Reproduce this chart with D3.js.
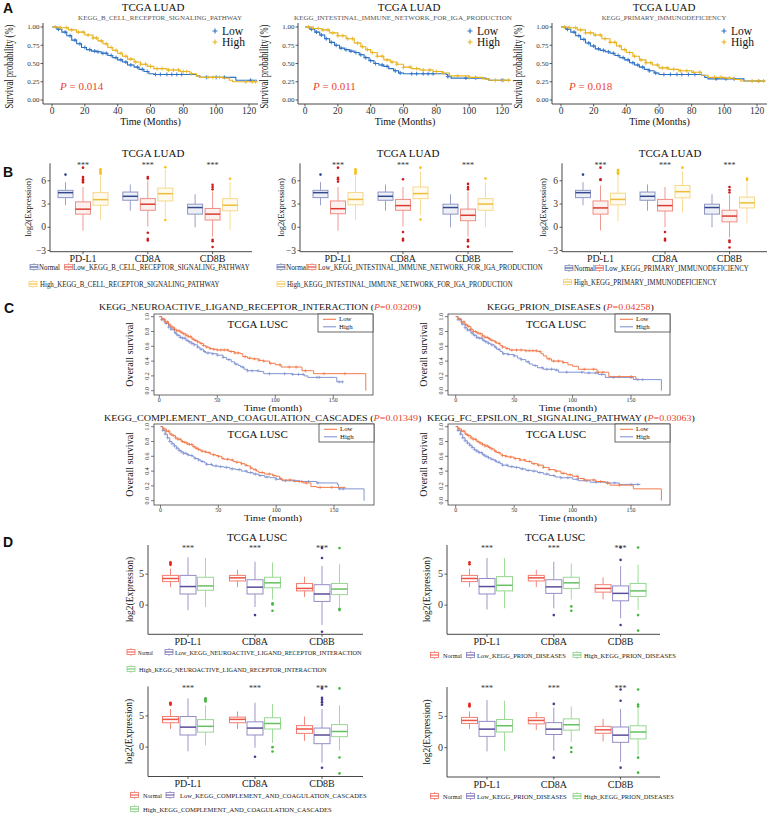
<!DOCTYPE html>
<html><head><meta charset="utf-8">
<script src="https://cdn.jsdelivr.net/npm/d3@7"></script>
<style>body{margin:0;background:#fff} svg text{font-family:"Liberation Serif","Times New Roman",serif}</style>
</head><body><script>
// ================= DATA =================
const genes = ["PD-L1","CD8A","CD8B"];
const groupNames = ["Normal","Low","High"];

// ---- Panel A (TCGA LUAD KM) ----
const titleA = "TCGA LUAD";
const pathwaysA = ["KEGG_B_CELL_RECEPTOR_SIGNALING_PATHWAY","KEGG_INTESTINAL_IMMUNE_NETWORK_FOR_IGA_PRODUCTION","KEGG_PRIMARY_IMMUNODEFICIENCY"];
const pA = ["0.014","0.011","0.018"];
const timeTicksA = [0,20,40,60,80,100,120];
const survTicksA = [0,0.25,0.5,0.75,1];
const a1Low = [[0,1],[3,.97],[6,.93],[9,.88],[12,.82],[15,.77],[18,.72],[21,.69],[24,.67],[27,.66],[30,.64],[34,.61],[37,.58],[40,.55],[43,.52],[46,.48],[50,.45],[53,.42],[56,.39],[59,.36],[62,.35],[87,.35],[88,.33],[90,.31],[111,.31],[112,.27],[125,.27]];
const a1High = [[0,1],[5,.99],[10,.96],[15,.93],[20,.89],[25,.85],[28,.81],[31,.77],[34,.72],[37,.68],[40,.64],[43,.6],[46,.56],[50,.52],[54,.49],[58,.46],[62,.43],[70,.41],[78,.39],[84,.36],[88,.33],[90,.31],[104,.3],[108,.27],[110,.25],[125,.25]];
const a1LowCens = [4,8,11,14,17,20,23,26,28,31,33,36,39,42,45,48,52,55,58,63,66,70,73,76,79,94,100,105,121];
const a1HighCens = [2,5,9,12,16,19,22,25,27,30,33,36,39,42,45,48,51,54,57,60,64,67,71,74,77,80,82,85,95,98,102,118,122,124];
const a2Low = [[0,1],[3,.97],[6,.93],[9,.89],[12,.84],[15,.79],[18,.75],[21,.71],[24,.69],[27,.67],[30,.65],[33,.62],[36,.58],[39,.54],[42,.5],[45,.48],[48,.46],[51,.43],[54,.4],[57,.37],[60,.36],[86,.35],[87,.32],[89,.3],[110,.29],[112,.27],[125,.27]];
const a2High = [[0,1],[5,.98],[10,.96],[15,.92],[20,.88],[25,.84],[30,.78],[34,.73],[37,.69],[40,.65],[44,.6],[48,.55],[52,.52],[56,.49],[60,.45],[65,.43],[70,.41],[78,.39],[84,.37],[88,.33],[100,.31],[108,.29],[112,.27],[125,.27]];
const a2LowCens = [4,7,10,13,16,19,22,25,28,31,34,37,40,43,47,50,55,58,65,68,72,75,78,87,98,104,120];
const a2HighCens = [2,5,8,11,14,17,20,23,26,29,32,35,38,41,44,47,50,53,56,60,64,68,72,76,80,84,93,100,104,116,121,124];
const a3Low = [[0,1],[3,.97],[6,.93],[9,.88],[12,.83],[15,.78],[18,.74],[21,.7],[24,.68],[27,.66],[30,.64],[33,.61],[36,.58],[39,.55],[42,.51],[45,.48],[48,.45],[51,.42],[54,.4],[57,.37],[60,.35],[86,.34],[88,.31],[90,.29],[110,.29],[112,.26],[125,.26]];
const a3High = [[0,1],[5,.99],[10,.96],[15,.92],[20,.89],[25,.84],[30,.79],[34,.74],[37,.69],[40,.65],[44,.6],[48,.55],[52,.51],[56,.48],[60,.44],[66,.42],[72,.4],[80,.38],[86,.34],[90,.31],[100,.3],[106,.28],[110,.26],[125,.26]];
const a3LowCens = [4,8,11,14,17,20,23,26,29,32,35,38,41,44,47,50,54,58,63,67,71,74,78,82,95,101,106,121];
const a3HighCens = [2,5,9,12,15,18,21,24,27,30,33,36,39,42,45,49,52,55,59,62,65,69,73,77,81,85,94,98,103,117,121,124];

// ---- Panel B (TCGA LUAD boxplots) ----
const b1Normal = [[2.85,3.83,4.47,4.77,5.83],[2.13,3.49,4.0,4.55,5.53],[0.0,1.7,2.55,2.98,4.26]];
const b1NormalOut = [[6.8],[],[]];
const b1Low = [[-0.43,1.7,2.34,3.28,5.2],[0.1,2.2,2.98,3.7,6.0],[-1.2,0.94,1.7,2.43,4.6]];
const b1LowOut = [[5.8,6.0,6.2,6.5,7.7],[6.3,6.5,-0.7,-1.5,-1.7],[4.9,5.2,5.5,-1.6,-1.8,-2.55]];
const b1High = [[0.94,2.85,3.57,4.47,6.6],[1.2,3.4,4.34,5.06,7.4],[-0.34,2.13,2.85,3.7,5.8]];
const b1HighOut = [[6.9,7.1,7.3,7.5],[7.74,0.94],[6.26]];
const b2Normal = [[2.85,3.83,4.47,4.77,5.83],[2.13,3.49,4.0,4.55,5.53],[0.0,1.7,2.55,2.98,4.26]];
const b2NormalOut = [[6.8],[],[]];
const b2Low = [[-0.43,1.75,2.4,3.4,5.2],[0.1,2.2,2.8,3.6,5.2],[-1.2,0.85,1.55,2.35,4.6]];
const b2LowOut = [[5.9,6.2,6.4,7.7],[6.2,-0.6,-1.5,-1.7],[4.9,5.2,5.6,-1.6,-1.8,-2.5]];
const b2High = [[0.94,2.9,3.6,4.5,6.6],[1.6,3.7,4.35,5.2,7.2],[0.0,2.2,3.0,3.7,5.8]];
const b2HighOut = [[6.9,7.1,7.3,7.5],[7.7,1.0],[6.3]];
const b3Normal = [[2.85,3.83,4.47,4.77,5.83],[2.13,3.49,4.0,4.55,5.53],[0.0,1.7,2.55,2.98,4.26]];
const b3NormalOut = [[6.8],[],[]];
const b3Low = [[-0.4,1.7,2.5,3.4,5.4],[0.0,2.1,2.8,3.6,5.2],[-1.3,0.7,1.45,2.2,4.2]];
const b3LowOut = [[6.1,6.2,7.7],[-0.6,-1.5,-1.7],[4.5,4.8,5.2,-1.7,-1.9,-2.6]];
const b3High = [[0.8,2.9,3.6,4.4,6.7],[1.9,3.8,4.6,5.4,7.2],[0.5,2.5,3.15,3.9,5.8]];
const b3HighOut = [[6.9,7.1,7.3,7.4],[7.7],[6.1,6.3]];
const yTicksB = [-3,0,3,6];

// ---- Panel C (TCGA LUSC KM) ----
const titleC = "TCGA LUSC";
const pathwaysC = ["KEGG_NEUROACTIVE_LIGAND_RECEPTOR_INTERACTION","KEGG_PRION_DISEASES","KEGG_COMPLEMENT_AND_COAGULATION_CASCADES","KEGG_FC_EPSILON_RI_SIGNALING_PATHWAY"];
const pC = ["0.03209","0.04258","0.01349","0.03063"];
const timeTicksC = [0,50,100,150];
const survTicksC = [0,0.2,0.4,0.6,0.8,1];
const c1Low = [[0,1],[2,.97],[5,.93],[8,.89],[10,.86],[13,.83],[15,.81],[18,.79],[20,.77],[23,.75],[25,.73],[28,.7],[30,.68],[33,.66],[35,.64],[38,.61],[40,.59],[43,.57],[46,.56],[50,.55],[60,.53],[65,.51],[70,.5],[72,.46],[76,.44],[80,.43],[86,.41],[90,.4],[95,.37],[100,.35],[105,.32],[122,.32],[123,.27],[132,.27],[133,.23],[178,.23],[178,0]];
const c1High = [[0,1],[2,.96],[5,.91],[8,.86],[10,.83],[13,.78],[15,.75],[18,.72],[20,.71],[23,.68],[25,.66],[28,.64],[30,.62],[33,.59],[35,.56],[38,.53],[40,.51],[45,.5],[50,.48],[55,.45],[58,.42],[62,.39],[65,.36],[68,.34],[70,.32],[73,.29],[76,.27],[86,.26],[90,.23],[115,.22],[125,.2],[128,.18],[152,.18],[153,.12],[158,.12]];
const c1LowCens = [3,5,7,9,11,13,15,17,19,21,23,25,27,29,31,33,36,38,41,44,47,50,53,56,59,62,65,68,74,78,82,86,90,96,104,112,118,126,142,160];
const c1HighCens = [2,4,6,8,10,12,14,16,18,20,22,24,26,28,30,33,36,39,42,46,50,55,60,66,72,76,80,85,95,108,115,120,124,136,138,155,158];
const c2Low = [[0,1],[2,.97],[5,.93],[8,.89],[10,.87],[13,.83],[15,.8],[18,.78],[20,.77],[23,.74],[25,.72],[28,.7],[30,.68],[33,.66],[35,.64],[38,.61],[40,.59],[43,.57],[46,.55],[60,.54],[70,.53],[73,.5],[75,.47],[78,.43],[82,.4],[92,.38],[96,.35],[100,.33],[105,.29],[120,.29],[121,.25],[130,.25],[131,.19],[153,.19],[154,.16],[155,.16]];
const c2High = [[0,1],[2,.96],[5,.9],[8,.85],[10,.82],[13,.78],[15,.75],[18,.72],[20,.71],[23,.68],[25,.66],[28,.64],[30,.62],[33,.59],[35,.56],[38,.53],[40,.5],[45,.49],[50,.47],[53,.44],[56,.42],[60,.39],[63,.36],[66,.34],[70,.31],[75,.29],[85,.28],[88,.25],[110,.24],[122,.22],[128,.18],[150,.18],[152,.15],[176,.15],[176,0]];
const c2LowCens = [3,5,7,9,11,13,15,17,19,21,23,25,27,29,31,34,37,40,44,48,52,56,60,63,66,69,72,80,84,88,92,110,118,122,126,140,150];
const c2HighCens = [2,4,6,8,10,12,14,16,18,20,22,24,26,28,31,34,37,41,45,50,56,62,68,74,78,82,86,95,108,114,120,125,135,150,156,160];
const c3Low = [[0,1],[2,.97],[5,.94],[8,.9],[10,.88],[13,.85],[15,.83],[18,.8],[20,.79],[23,.77],[25,.76],[28,.73],[30,.71],[33,.69],[35,.67],[38,.66],[40,.65],[43,.63],[45,.62],[48,.61],[50,.6],[53,.57],[55,.56],[60,.55],[63,.53],[65,.52],[70,.5],[73,.48],[75,.47],[78,.44],[80,.42],[83,.4],[85,.38],[90,.36],[97,.34],[100,.33],[103,.3],[105,.28],[115,.26],[123,.24],[130,.19],[135,.18],[160,.18]];
const c3High = [[0,1],[2,.95],[4,.9],[6,.85],[8,.8],[10,.77],[12,.74],[14,.71],[16,.68],[18,.66],[20,.64],[23,.62],[25,.61],[28,.59],[30,.57],[33,.55],[35,.53],[38,.51],[40,.49],[45,.47],[50,.46],[55,.45],[60,.43],[65,.42],[70,.4],[75,.38],[80,.36],[85,.34],[90,.32],[95,.31],[100,.29],[105,.27],[120,.26],[135,.24],[153,.22],[154,.16],[176,.16],[176,0]];
const c3LowCens = [3,5,7,9,11,13,15,17,19,21,23,25,27,29,31,33,36,39,42,46,50,54,58,62,66,70,74,78,82,88,94,98,104,112,120,126,138,148];
const c3HighCens = [2,4,6,8,10,12,14,16,18,20,22,24,27,30,33,36,40,44,48,52,57,62,68,74,78,82,86,92,100,108,116,122,128,136,155,158];
const c4Low = [[0,1],[2,.97],[5,.94],[8,.9],[10,.88],[13,.85],[15,.83],[18,.8],[20,.78],[23,.76],[25,.74],[28,.72],[30,.7],[33,.67],[35,.65],[38,.63],[40,.61],[43,.6],[45,.59],[50,.57],[55,.55],[60,.53],[65,.5],[70,.48],[75,.45],[80,.42],[85,.4],[90,.37],[95,.35],[100,.33],[105,.3],[110,.28],[120,.26],[128,.24],[132,.21],[150,.21],[152,.16],[176,.16],[176,0]];
const c4High = [[0,1],[2,.95],[4,.9],[6,.85],[8,.81],[10,.78],[12,.75],[14,.72],[16,.69],[18,.67],[20,.65],[23,.62],[25,.6],[28,.58],[30,.56],[33,.54],[35,.52],[38,.5],[40,.48],[45,.46],[50,.45],[55,.43],[60,.41],[65,.4],[70,.38],[75,.36],[80,.34],[85,.32],[90,.31],[100,.29],[105,.27],[115,.25],[130,.24],[140,.22],[158,.22]];
const c4LowCens = [3,5,7,9,11,13,15,17,19,21,23,25,27,29,31,34,37,40,43,47,51,55,59,63,67,71,75,80,86,92,98,104,110,118,124,130,140];
const c4HighCens = [2,4,6,8,10,12,14,16,18,20,22,24,26,28,31,34,37,40,44,48,52,57,62,67,72,78,84,90,96,104,112,120,130,136,150,156];

// ---- Panel D (TCGA LUSC boxplots) ----
const titleD = "TCGA LUSC";
const pathwaysD = ["KEGG_NEUROACTIVE_LIGAND_RECEPTOR_INTERACTION","KEGG_PRION_DISEASES","KEGG_COMPLEMENT_AND_COAGULATION_CASCADES","KEGG_PRION_DISEASES"];
const yTicksD = [0,5];
const d1Normal = [[2.9,3.8,4.3,4.8,5.9],[2.9,3.9,4.4,4.8,5.7],[1.3,2.3,2.7,3.5,4.6]];
const d1NormalOut = [[6.5,6.7,6.9],[],[]];
const d1Low = [[-0.8,1.8,3.0,4.8,7.7],[-0.3,1.8,2.9,4.1,7.0],[-3.2,0.6,1.8,3.3,6.3]];
const d1LowOut = [[],[-1.6],[7.6,9.2,-4.3]];
const d1High = [[-0.3,2.4,3.1,4.5,7.6],[0.9,2.8,3.6,4.5,6.9],[-0.3,1.7,2.6,3.5,6.6]];
const d1HighOut = [[],[0.3,0.1,-0.9],[-0.6,-0.8,9.2]];
const d2Normal = [[2.9,3.8,4.3,4.8,5.9],[2.9,3.9,4.4,4.8,5.7],[0.9,2.1,2.7,3.3,4.5]];
const d2NormalOut = [[6.6,6.9],[],[]];
const d2Low = [[-0.7,1.8,3.0,4.3,7.6],[-0.5,1.9,2.95,4.1,7.0],[-2.1,0.7,1.9,3.1,6.3]];
const d2LowOut = [[],[-1.6],[-3.2,7.3,9.3]];
const d2High = [[-0.5,2.3,3.2,4.6,7.6],[0.9,2.7,3.6,4.5,6.7],[-0.8,1.4,2.3,3.5,6.5]];
const d2HighOut = [[],[-0.2,-0.9],[-1.6,-4.1,9.3]];
const d3Normal = [[2.9,3.9,4.44,4.9,6.1],[2.9,3.9,4.44,4.8,5.7],[1.0,2.2,2.9,3.44,4.9]];
const d3NormalOut = [[6.8,7.0,7.1],[],[]];
const d3Low = [[-0.67,1.94,3.2,4.9,7.8],[-0.1,1.94,3.05,4.05,7.1],[-2.5,0.55,1.94,3.05,6.1]];
const d3LowOut = [[],[-1.55],[6.8,7.2,7.6,7.9,9.4,-3.3]];
const d3High = [[0.28,2.4,3.33,4.4,6.7],[0.67,2.9,3.78,4.7,6.9],[-0.55,1.67,2.5,3.6,6.7]];
const d3HighOut = [[7.3,7.5,7.7,7.8],[0,-0.7],[-1.67,-4.2,9.4]];
const d4Normal = [[3.0,3.87,4.35,4.84,5.8],[2.8,3.8,4.35,4.8,5.7],[1.0,2.3,2.85,3.4,4.6]];
const d4NormalOut = [[6.6,6.8,7.0],[],[]];
const d4Low = [[-0.6,1.8,2.96,4.2,7.6],[-0.5,2.1,2.96,4.0,6.4],[-2.3,0.85,2.0,3.3,6.2]];
const d4LowOut = [[],[7.0,-1.6],[7.5,9.3,-3.2]];
const d4High = [[-0.55,2.5,3.5,4.5,7.5],[0.9,2.8,3.66,4.6,6.6],[-1.2,1.4,2.5,3.5,6.3]];
const d4HighOut = [[],[0,-0.7],[6.6,6.9,9.3,-1.6,-4.0]];

// ================= LAYOUT / STYLE =================
const svg = d3.select("body").append("svg").attr("width",770).attr("height",817);
const AX = "#333";
const colA = {low:"#2e72c4", high:"#e8b420"};
const colC = {low:"#f27b4c", high:"#8395d3"};
const palB = [{s:"#8e96c2",m:"#34498c",o:"#2f4388",f:"#eef0f7"},{s:"#ee8d84",m:"#dc3a2e",o:"#d11b1b",f:"#fdf1f0"},{s:"#f5d88c",m:"#eebd3a",o:"#f6c015",f:"#fefaee"}];
const palD = [{s:"#f47d70",m:"#ee5343",o:"#e62419",f:"#fff"},{s:"#968bc5",m:"#5b4b9b",o:"#4a3a8e",f:"#fff"},{s:"#97d791",m:"#66c062",o:"#45b640",f:"#fff"}];

function stepAt(data,t){let s=data[0][1];for(const d of data){if(d[0]<=t)s=d[1];else break;}return s;}
function plus(g,x,y,s,c,w){g.append("path").attr("d",`M${x-s},${y}H${x+s}M${x},${y-s}V${y+s}`).attr("stroke",c).attr("stroke-width",w).attr("fill","none");}
function place(e,x,y,len,rot,sy){
  let sx=1; sy=sy||1;
  if(len){const n=e.node().getComputedTextLength(); if(n>0) sx=len/n;}
  const sc=(sx!==1||sy!==1)?` scale(${sx.toFixed(4)},${sy})`:"";
  e.attr("x",0).attr("y",0).attr("transform",`translate(${x},${y})${rot?" rotate(-90)":""}${sc}`);
}
function txt(g,x,y,t,size,opt={}){
  const e=g.append("text").attr("font-size",size).attr("fill",opt.fill||"#111").attr("text-anchor",opt.anchor||"start").text(t);
  if(opt.italic)e.attr("font-style","italic");
  if(opt.weight)e.attr("font-weight",opt.weight);
  if(opt.family)e.style("font-family",opt.family);
  place(e,x,y,opt.len,opt.rot,opt.sy);
  return e;
}
function hline(g,x1,x2,y,c,w){g.append("line").attr("x1",x1).attr("x2",x2).attr("y1",y).attr("y2",y).attr("stroke",c).attr("stroke-width",w);}
function vline(g,x,y1,y2,c,w){g.append("line").attr("x1",x).attr("x2",x).attr("y1",y1).attr("y2",y2).attr("stroke",c).attr("stroke-width",w);}

// panel letters
[["A",3,13],["B",3,177],["C",4,313],["D",3,547]].forEach(([l,x,y])=>txt(svg,x,y,l,14,{weight:"bold",family:"'Liberation Sans',Arial,sans-serif"}));

// ---------- Panel A ----------
const layoutA = [
  {ax:43,x0:52,x120:249,right:258,top:23,bottom:104,y1:27,y0:100,titleX:153,subX:160,subLen:164,yTitleX:13,pX:60},
  {ax:298,x0:305,x120:502,right:512,top:23,bottom:104,y1:27,y0:100,titleX:409,subX:403,subLen:218,yTitleX:268,pX:313},
  {ax:552,x0:561,x120:757,right:767,top:23,bottom:104,y1:27,y0:100,titleX:664,subX:664,subLen:125,yTitleX:522,pX:569}
];
function drawKMA(L,low,high,lowC,highC,sub,p){
  const g=svg.append("g");
  const x=d3.scaleLinear().domain([0,120]).range([L.x0,L.x120]);
  const y=d3.scaleLinear().domain([0,1]).range([L.y0,L.y1]);
  vline(g,L.ax,L.top,L.bottom,AX,0.9); hline(g,L.ax,L.right,L.bottom,AX,0.9);
  survTicksA.forEach(v=>{hline(g,L.ax-2.5,L.ax,y(v),AX,0.8);txt(g,L.ax-3.5,y(v)+2.4,d3.format(".2f")(v),7,{anchor:"end",fill:"#333"});});
  timeTicksA.forEach(v=>{vline(g,x(v),L.bottom,L.bottom+2.5,AX,0.8);txt(g,x(v),L.bottom+10,String(v),9.5,{anchor:"middle",fill:"#333"});});
  txt(g,(L.ax+L.right)/2,L.bottom+21,"Time (Months)",10,{anchor:"middle"});
  txt(g,L.yTitleX,(L.top+L.bottom)/2+3,"Survival probability (%)",11.5,{anchor:"middle",rot:true,len:84});
  txt(g,L.titleX,11,titleA,11,{anchor:"middle"});
  txt(g,L.subX,20,sub,7,{anchor:"middle",fill:"#555",len:L.subLen});
  const line=d3.line().curve(d3.curveStepAfter).x(d=>x(d[0])).y(d=>y(d[1]));
  [[low,lowC,colA.low],[high,highC,colA.high]].forEach(([d,c,col])=>{
    g.append("path").datum(d).attr("d",line).attr("fill","none").attr("stroke",col).attr("stroke-width",1.1);
    c.forEach(t=>plus(g,x(t),y(stepAt(d,t)),2,col,0.9));
  });
  const lx=L.ax+172;
  plus(g,lx,31,2.5,colA.low,1.1); txt(g,lx+7,35,"Low",11.5);
  plus(g,lx,42,2.5,colA.high,1.1); txt(g,lx+7,46,"High",11.5);
  const t=g.append("text").attr("font-size",11).attr("fill","#e8432d");
  t.append("tspan").attr("font-style","italic").text("P");
  t.append("tspan").text(" = "+p);
  place(t,L.pX,90);
}
drawKMA(layoutA[0],a1Low,a1High,a1LowCens,a1HighCens,pathwaysA[0],pA[0]);
drawKMA(layoutA[1],a2Low,a2High,a2LowCens,a2HighCens,pathwaysA[1],pA[1]);
drawKMA(layoutA[2],a3Low,a3High,a3LowCens,a3HighCens,pathwaysA[2],pA[2]);

// ---------- Box plots (B and D) ----------
function boxIcon(g,cx,cy,p,w,h){
  vline(g,cx,cy-h/2-1.5,cy-h/2,p.s,0.8); vline(g,cx,cy+h/2,cy+h/2+1.5,p.s,0.8);
  g.append("rect").attr("x",cx-w/2).attr("y",cy-h/2).attr("width",w).attr("height",h).attr("fill",p.f).attr("stroke",p.s).attr("stroke-width",0.9);
  hline(g,cx-w/2,cx+w/2,cy,p.m,1);
}
function drawBox(L,series,pal){
  const g=svg.append("g");
  const y=d3.scaleLinear().domain(L.dom).range([L.bottom,L.top]);
  const s=L.step;
  const x=d3.scaleBand().domain(genes).range([L.c0-s/2,L.c0+2.5*s]);
  const dx=d3.scaleBand().domain(groupNames).range([-1.5*L.dodge,1.5*L.dodge]);
  vline(g,L.ax,L.top,L.bottom,AX,0.9); hline(g,L.ax,L.xEnd,L.bottom,AX,0.9);
  L.yTicks.forEach(v=>{hline(g,L.ax-2.5,L.ax,y(v),AX,0.8);txt(g,L.ax-4,y(v)+3,v<0?"\u2212"+Math.abs(v):String(v),L.tickSize,{anchor:"end",fill:"#333"});});
  genes.forEach(gn=>{const cx=x(gn)+s/2;vline(g,cx,L.bottom,L.bottom+2.5,AX,0.8);txt(g,cx,L.catY,gn,10,{anchor:"middle",fill:"#222"});});
  txt(g,L.yTitleX,(L.top+L.bottom)/2,"log2(Expression)",L.yTitleSize,{anchor:"middle",rot:true});
  if(L.title)txt(g,L.titleX,L.titleY,L.title,11,{anchor:"middle"});
  series.forEach((ser,si)=>{
    const p=pal[si];
    genes.forEach((gn,gi)=>{
      const cx=x(gn)+s/2+dx(groupNames[si])+dx.bandwidth()/2;
      const [lo,q1,md,q3,hi]=ser.stats[gi];
      vline(g,cx,y(hi),y(q3),p.s,0.9); vline(g,cx,y(q1),y(lo),p.s,0.9);
      g.append("rect").attr("x",cx-L.bw/2).attr("y",y(q3)).attr("width",L.bw).attr("height",y(q1)-y(q3)).attr("fill",p.f).attr("stroke",p.s).attr("stroke-width",1);
      hline(g,cx-L.bw/2,cx+L.bw/2,y(md),p.m,1.5);
      ser.outs[gi].forEach(v=>g.append("circle").attr("cx",cx).attr("cy",y(v)).attr("r",1.3).attr("fill",p.o));
    });
  });
  genes.forEach(gn=>{const cx=x(gn)+s/2;txt(g,cx,L.starY,"***",8,{anchor:"middle",fill:"#333"});});
  L.legend.forEach(it=>{
    boxIcon(g,it.ix,it.y,pal[it.si],it.iw||8,it.ih||5);
    txt(g,it.tx,it.y+3,it.label,it.size||7.5,{len:it.len,fill:"#222"});
  });
}
const bDom=[-3.15,8.26];
const layoutB=[
  {ax:50,xEnd:252,top:163.3,bottom:251.7,dom:bDom,c0:83,step:64.8,dodge:17.5,bw:15,yTicks:yTicksB,tickSize:9.5,catY:261.5,yTitleX:31,yTitleSize:8.5,title:titleA,titleX:153,titleY:157,starY:168,
   legend:[{si:0,ix:34,y:267,tx:39,label:"Normal",len:21},{si:1,ix:68.5,y:267,tx:73,label:"Low_"+pathwaysA[0],len:177},{si:2,ix:33,y:284,tx:40,label:"High_"+pathwaysA[0],len:180}]},
  {ax:300,xEnd:513,top:163.3,bottom:251.7,dom:bDom,c0:338,step:65,dodge:17.5,bw:15,yTicks:yTicksB,tickSize:9.5,catY:261.5,yTitleX:284,yTitleSize:8.5,title:titleA,titleX:408,titleY:157,starY:168,
   legend:[{si:0,ix:281,y:267,tx:286,label:"Normal",len:22},{si:1,ix:312,y:267,tx:318,label:"Low_"+pathwaysA[1],len:225},{si:2,ix:281,y:284,tx:287,label:"High_"+pathwaysA[1],len:226}]},
  {ax:562,xEnd:767,top:163.3,bottom:251.7,dom:bDom,c0:600.5,step:64.5,dodge:17.5,bw:15,yTicks:yTicksB,tickSize:9.5,catY:261.5,yTitleX:546,yTitleSize:8.5,title:titleA,titleX:670,titleY:157,starY:168,
   legend:[{si:0,ix:569,y:268,tx:574,label:"Normal",len:21},{si:1,ix:599.5,y:268,tx:605,label:"Low_"+pathwaysA[2],len:144},{si:2,ix:567.5,y:282,tx:574,label:"High_"+pathwaysA[2],len:143}]}
];
const seriesB=[
  [{stats:b1Normal,outs:b1NormalOut},{stats:b1Low,outs:b1LowOut},{stats:b1High,outs:b1HighOut}],
  [{stats:b2Normal,outs:b2NormalOut},{stats:b2Low,outs:b2LowOut},{stats:b2High,outs:b2HighOut}],
  [{stats:b3Normal,outs:b3NormalOut},{stats:b3Low,outs:b3LowOut},{stats:b3High,outs:b3HighOut}]
];
layoutB.forEach((L,i)=>drawBox(L,seriesB[i],palB));

// ---------- Panel C ----------
const layoutC=[
  {left:154,right:373,top:314,bottom:395,x0:159.3,x150:333.3,y1:316.7,y0:390.7,tS:99,tE:421,tY:310,lblX:257.7,timeX:273},
  {left:448,right:670,top:314,bottom:395,x0:455.7,x150:631,y1:316.7,y0:390.7,tS:487,tE:654,tY:310,lblX:556,timeX:568},
  {left:154,right:374,top:424,bottom:505,x0:160.5,x150:334,y1:426.7,y0:500.7,tS:104,tE:422,tY:420.5,lblX:257.7,timeX:273},
  {left:448,right:670,top:424,bottom:505,x0:455.7,x150:631,y1:426.7,y0:500.7,tS:427,tE:695,tY:420.5,lblX:556,timeX:568}
];
function drawKMC(L,low,high,lowC,highC,path,p){
  const g=svg.append("g");
  const x=d3.scaleLinear().domain([0,150]).range([L.x0,L.x150]);
  const y=d3.scaleLinear().domain([0,1]).range([L.y0,L.y1]);
  g.append("rect").attr("x",L.left).attr("y",L.top).attr("width",L.right-L.left).attr("height",L.bottom-L.top).attr("fill","none").attr("stroke","#444").attr("stroke-width",0.8);
  survTicksC.forEach(v=>{hline(g,L.left-3,L.left,y(v),"#444",0.7);txt(g,L.left-5.5,y(v),d3.format(".1f")(v),6,{anchor:"middle",rot:true,fill:"#333"});});
  timeTicksC.forEach(v=>{vline(g,x(v),L.bottom,L.bottom+3,"#444",0.7);txt(g,x(v),L.bottom+6.5,String(v),6,{anchor:"middle",fill:"#333"});});
  txt(g,L.timeX,L.bottom+15.5,"Time (month)",10.5,{anchor:"middle",sy:0.8});
  txt(g,L.left-21,(L.top+L.bottom)/2,"Overall survival",10,{anchor:"middle",rot:true});
  txt(g,L.lblX,L.top+14,titleC,11,{anchor:"middle"});
  const t=g.append("text").attr("font-size",10.5).attr("fill","#111");
  t.append("tspan").text(path+" (");
  t.append("tspan").attr("fill","#e8432d").attr("font-style","italic").text("P");
  t.append("tspan").attr("fill","#e8432d").text("="+p);
  t.append("tspan").text(")");
  place(t,L.tS,L.tY,L.tE-L.tS,false,0.85);
  const line=d3.line().curve(d3.curveStepAfter).x(d=>x(d[0])).y(d=>y(d[1]));
  [[high,highC,colC.high],[low,lowC,colC.low]].forEach(([d,c,col])=>{
    g.append("path").datum(d).attr("d",line).attr("fill","none").attr("stroke",col).attr("stroke-width",1);
    c.forEach(t=>plus(g,x(t),y(stepAt(d,t)),1.6,col,0.7));
  });
  const lw=55,lh=18,lx=L.right-lw;
  g.append("rect").attr("x",lx).attr("y",L.top).attr("width",lw).attr("height",lh).attr("fill","#fff").attr("stroke","#444").attr("stroke-width",0.8);
  hline(g,lx+5,lx+18,L.top+5.3,colC.low,1.1); txt(g,lx+21,L.top+7.3,"Low",6.8);
  hline(g,lx+5,lx+18,L.top+12.8,colC.high,1.1); txt(g,lx+21,L.top+15.2,"High",6.8);
}
drawKMC(layoutC[0],c1Low,c1High,c1LowCens,c1HighCens,pathwaysC[0],pC[0]);
drawKMC(layoutC[1],c2Low,c2High,c2LowCens,c2HighCens,pathwaysC[1],pC[1]);
drawKMC(layoutC[2],c3Low,c3High,c3LowCens,c3HighCens,pathwaysC[2],pC[2]);
drawKMC(layoutC[3],c4Low,c4High,c4LowCens,c4HighCens,pathwaysC[3],pC[3]);

// ---------- Panel D ----------
const dDom=[-4.7,9.7];
const layoutD=[
  {ax:148,xEnd:363,top:545,bottom:634.3,dom:dDom,c0:188,step:67,dodge:17.5,bw:16,yTicks:yTicksD,tickSize:10,catY:644.5,yTitleX:133,yTitleSize:9.5,title:titleD,titleX:257,titleY:540.5,starY:551,
   legend:[{si:0,ix:131,y:652,tx:138,label:"Normal",len:15,size:6},{si:1,ix:169,y:652,tx:175,label:"Low_"+pathwaysD[0],len:187,size:7},{si:2,ix:131,y:669,tx:139,label:"High_"+pathwaysD[0],len:188,size:7}]},
  {ax:447,xEnd:660,top:545,bottom:634.3,dom:dDom,c0:487,step:66.8,dodge:17.5,bw:16,yTicks:yTicksD,tickSize:10,catY:644.5,yTitleX:430,yTitleSize:9.5,title:titleD,titleX:555,titleY:540.5,starY:551,
   legend:[{si:0,ix:434.5,y:655,tx:443,label:"Normal",len:19,size:6},{si:1,ix:470.5,y:655,tx:477,label:"Low_"+pathwaysD[1],len:89,size:7},{si:2,ix:577,y:655,tx:584,label:"High_"+pathwaysD[1],len:92,size:7}]},
  {ax:148,xEnd:363,top:686.5,bottom:776.5,dom:dDom,c0:188,step:67,dodge:17.5,bw:16,yTicks:yTicksD,tickSize:10,catY:787,yTitleX:132,yTitleSize:9.5,title:null,starY:691,
   legend:[{si:0,ix:134.5,y:795,tx:143,label:"Normal",len:19,size:6},{si:1,ix:170,y:795,tx:180,label:"Low_"+pathwaysD[2],len:187,size:7},{si:2,ix:134.5,y:809,tx:143,label:"High_"+pathwaysD[2],len:189,size:7}]},
  {ax:447,xEnd:660,top:687,bottom:777,dom:dDom,c0:487,step:66.8,dodge:17.5,bw:16,yTicks:yTicksD,tickSize:10,catY:788,yTitleX:430,yTitleSize:9.5,title:null,starY:691,
   legend:[{si:0,ix:434.5,y:796,tx:443,label:"Normal",len:19,size:6},{si:1,ix:470.5,y:796,tx:477,label:"Low_"+pathwaysD[3],len:90,size:7},{si:2,ix:577,y:796,tx:584,label:"High_"+pathwaysD[3],len:90,size:7}]}
];
const seriesD=[
  [{stats:d1Normal,outs:d1NormalOut},{stats:d1Low,outs:d1LowOut},{stats:d1High,outs:d1HighOut}],
  [{stats:d2Normal,outs:d2NormalOut},{stats:d2Low,outs:d2LowOut},{stats:d2High,outs:d2HighOut}],
  [{stats:d3Normal,outs:d3NormalOut},{stats:d3Low,outs:d3LowOut},{stats:d3High,outs:d3HighOut}],
  [{stats:d4Normal,outs:d4NormalOut},{stats:d4Low,outs:d4LowOut},{stats:d4High,outs:d4HighOut}]
];
layoutD.forEach((L,i)=>drawBox(L,seriesD[i],palD));
</script></body></html>
